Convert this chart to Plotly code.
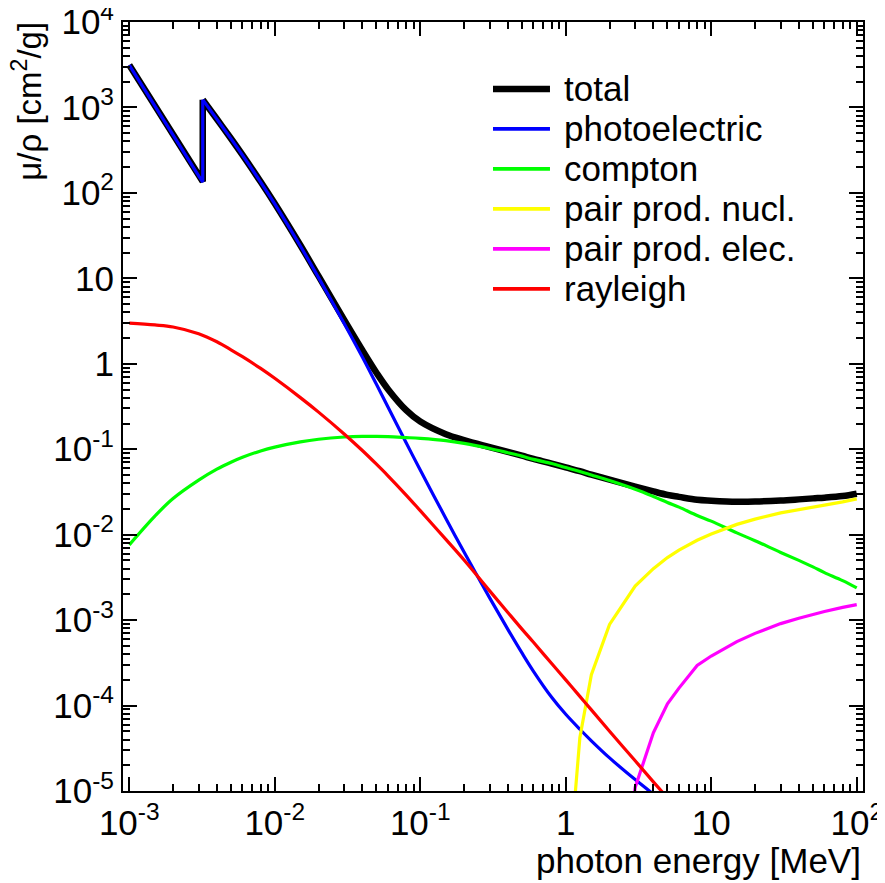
import plotly.graph_objects as go

# photon energy grid [MeV]  (index 4/5 = K-edge, drawn as a vertical step)
energy = [1e-3, 1.5e-3, 2e-3, 3e-3, 3.2e-3, 3.2e-3, 4e-3, 5e-3, 6e-3, 8e-3,
          0.01, 0.015, 0.02, 0.03, 0.04, 0.05, 0.06, 0.08, 0.1, 0.15, 0.2,
          0.3, 0.4, 0.5, 0.6, 0.8, 1.0, 1.25, 1.5, 2.0, 3.0, 4.0, 5.0, 6.0,
          8.0, 10.0, 15.0, 20.0, 30.0, 40.0, 50.0, 60.0, 80.0, 100.0]

total = [3133, 1028, 473, 160.3, 136.2, 1232, 733, 433.5, 278.3, 135,
         75.1, 24.4, 10.6, 3.26, 1.44, 0.786, 0.505, 0.287, 0.211, 0.150, 0.128,
         0.106, 0.093, 0.084, 0.077, 0.068, 0.0613, 0.0553, 0.0505, 0.044, 0.0366, 0.0321, 0.0292, 0.0277,
         0.0256, 0.025, 0.0243, 0.0244, 0.0251, 0.0259, 0.0266, 0.0271, 0.0283, 0.0301]

photo_e = energy[:32]
photoelectric = [3130, 1025, 470, 158, 134, 1230, 731, 432, 277, 134,
                 74.3, 23.9, 10.2, 2.97, 1.20, 0.575, 0.313, 0.119, 0.0571, 0.0155, 6.26e-3,
                 1.82e-3, 7.8e-4, 4.13e-4, 2.52e-4, 1.25e-4, 7.9e-5, 5.28e-5, 3.87e-5, 2.44e-5, 1.36e-5, 9.2e-6]

compton_e = [1e-3, 1.5e-3, 2e-3, 3e-3, 4e-3, 5e-3, 6e-3, 8e-3,
             0.01, 0.015, 0.02, 0.03, 0.04, 0.05, 0.06, 0.08, 0.1, 0.15, 0.2,
             0.3, 0.4, 0.5, 0.6, 0.8, 1.0, 1.25, 1.5, 2.0, 3.0, 4.0, 5.0, 6.0,
             8.0, 10.0, 15.0, 20.0, 30.0, 40.0, 50.0, 60.0, 80.0, 100.0]
compton = [7.6e-3, 0.0165, 0.0265, 0.0435, 0.0585, 0.0705, 0.0805, 0.0955,
           0.106, 0.122, 0.131, 0.139, 0.1415, 0.1415, 0.1405, 0.137, 0.134, 0.126, 0.117,
           0.102, 0.091, 0.083, 0.076, 0.068, 0.061, 0.055, 0.050, 0.043, 0.034, 0.028, 0.0238, 0.021,
           0.0168, 0.0144, 0.0105, 0.0085, 0.0062, 0.0050, 0.0042, 0.0036, 0.0029, 0.00238]

pairn_e = [1.1, 1.25, 1.5, 2.0, 3.0, 4.0, 5.0, 6.0, 8.0, 10.0, 15.0, 20.0, 30.0, 40.0, 50.0, 60.0, 80.0, 100.0]
pair_nucl = [3e-6, 4.2e-5, 2.3e-4, 8.9e-4, 2.5e-3, 4.0e-3, 5.4e-3, 6.6e-3, 8.6e-3, 0.0102, 0.0132, 0.0152,
             0.0180, 0.0198, 0.0212, 0.0222, 0.0242, 0.0262]

paire_e = [2.5, 3.0, 4.0, 5.0, 6.0, 8.0, 10.0, 15.0, 20.0, 30.0, 40.0, 50.0, 60.0, 80.0, 100.0]
pair_elec = [1e-6, 1.1e-5, 4.8e-5, 1.05e-4, 1.6e-4, 2.95e-4, 3.8e-4, 5.6e-4, 7.0e-4, 9.1e-4, 1.05e-3,
             1.17e-3, 1.26e-3, 1.41e-3, 1.52e-3]

rayl_e = [1e-3, 1.5e-3, 2e-3, 3e-3, 4e-3, 5e-3, 6e-3, 8e-3,
          0.01, 0.015, 0.02, 0.03, 0.04, 0.05, 0.06, 0.08, 0.1, 0.15, 0.2,
          0.3, 0.4, 0.5, 0.6, 0.8, 1.0, 1.25, 1.5, 2.0, 3.0, 4.0, 5.0]
rayleigh = [2.99, 2.85, 2.70, 2.25, 1.81, 1.46, 1.21, 0.883,
            0.676, 0.402, 0.272, 0.151, 0.0966, 0.0668, 0.0489, 0.0291, 0.0191, 8.8e-3, 5.05e-3,
            2.2e-3, 1.23e-3, 7.85e-4, 5.5e-4, 3.1e-4, 2.0e-4, 1.28e-4, 8.9e-5, 5.0e-5, 2.26e-5, 1.28e-5, 8.3e-6]

x_tickvals = [1e-3, 1e-2, 1e-1, 1, 10, 100]
x_ticktext = ["10<sup>-3</sup>", "10<sup>-2</sup>", "10<sup>-1</sup>", "1", "10", "10<sup>2</sup>"]
y_tickvals = [1e-5, 1e-4, 1e-3, 1e-2, 1e-1, 1, 10, 1e2, 1e3, 1e4]
y_ticktext = ["10<sup>-5</sup>", "10<sup>-4</sup>", "10<sup>-3</sup>", "10<sup>-2</sup>", "10<sup>-1</sup>",
              "1", "10", "10<sup>2</sup>", "10<sup>3</sup>", "10<sup>4</sup>"]

legend_names = ["total", "photoelectric", "compton", "pair prod. nucl.", "pair prod. elec.", "rayleigh"]
legend_colors = ["black", "#0000ff", "#00ff00", "#ffff00", "#ff00ff", "#ff0000"]
legend_widths = [6.5, 3.2, 3.2, 3.2, 3.2, 3.2]


def minors(lo, hi):
    out = []
    for e in range(lo, hi):
        for m in range(2, 10):
            out.append(m * 10.0 ** e)
    return out


FONT = "Liberation Sans"
fig = go.Figure()


def add_series(xs, ys, color, width, shape):
    fig.add_trace(go.Scatter(x=xs, y=ys, mode="lines", showlegend=False,
                             line=dict(color=color, width=width, shape=shape),
                             hoverinfo="x+y"))


# total: linear through the K-edge step, smooth afterwards
add_series(energy[:6], total[:6], legend_colors[0], legend_widths[0], "linear")
add_series(energy[5:], total[5:], legend_colors[0], legend_widths[0], "spline")
add_series(photo_e[:6], photoelectric[:6], legend_colors[1], legend_widths[1], "linear")
add_series(photo_e[5:], photoelectric[5:], legend_colors[1], legend_widths[1], "spline")
add_series(compton_e, compton, legend_colors[2], legend_widths[2], "spline")
add_series(pairn_e, pair_nucl, legend_colors[3], legend_widths[3], "linear")
add_series(paire_e, pair_elec, legend_colors[4], legend_widths[4], "linear")
add_series(rayl_e, rayleigh, legend_colors[5], legend_widths[5], "spline")

axis_common = dict(type="log", showgrid=False, zeroline=False, showline=True,
                   linecolor="black", linewidth=2, mirror="ticks", automargin=False,
                   ticks="inside", ticklen=14, tickwidth=1.5, tickcolor="black",
                   tickmode="array", ticklabeloverflow="allow")
fig.update_xaxes(**axis_common, range=[-3.043, 2.043],
                 tickvals=x_tickvals, ticktext=x_ticktext,
                 tickfont=dict(family=FONT, size=35, color="black"),
                 minor=dict(tickmode="array", tickvals=minors(-4, 3), ticks="inside",
                            ticklen=7, tickwidth=1.5, tickcolor="black"))
fig.update_yaxes(**axis_common, range=[-5, 4.0005],
                 tickvals=y_tickvals, ticktext=y_ticktext,
                 tickfont=dict(family=FONT, size=35, color="black"),
                 minor=dict(tickmode="array", tickvals=minors(-5, 4), ticks="inside",
                            ticklen=7, tickwidth=1.5, tickcolor="black"))

# axis titles (ROOT style: aligned to the axis ends)
fig.add_annotation(text="photon energy [MeV]", xref="paper", yref="paper",
                   x=1.0, y=-0.062, xanchor="right", yanchor="top", showarrow=False,
                   font=dict(family=FONT, size=35, color="black"))
fig.add_annotation(text="\u03bc/\u03c1 [cm<sup>2</sup>/g]", xref="paper", yref="paper",
                   x=-0.129, y=1.003, xanchor="center", yanchor="top", textangle=-90,
                   showarrow=False, font=dict(family=FONT, size=33, color="black"))

# legend (drawn in paper coordinates)
leg_x0, leg_x1, leg_tx = 0.5, 0.577, 0.593
leg_y0, leg_dy = 0.913, 0.052
for i, (nm, col, w) in enumerate(zip(legend_names, legend_colors, legend_widths)):
    yy = leg_y0 - i * leg_dy
    fig.add_shape(type="line", xref="paper", yref="paper", x0=leg_x0, x1=leg_x1,
                  y0=yy, y1=yy, line=dict(color=col, width=w + (0.5 if i else 0)))
    fig.add_annotation(text=nm, xref="paper", yref="paper", x=leg_tx, y=yy,
                       xanchor="left", yanchor="middle", showarrow=False,
                       font=dict(family=FONT, size=35, color="black"))

# the page body adds an 8 px offset, so margins are reduced by 8 px
fig.update_layout(
    width=885, height=883,
    margin=dict(l=115, r=30, t=14, b=100),
    paper_bgcolor="white", plot_bgcolor="white",
    font=dict(family=FONT, color="black"),
    showlegend=False,
)

fig.write_html("out.html")
